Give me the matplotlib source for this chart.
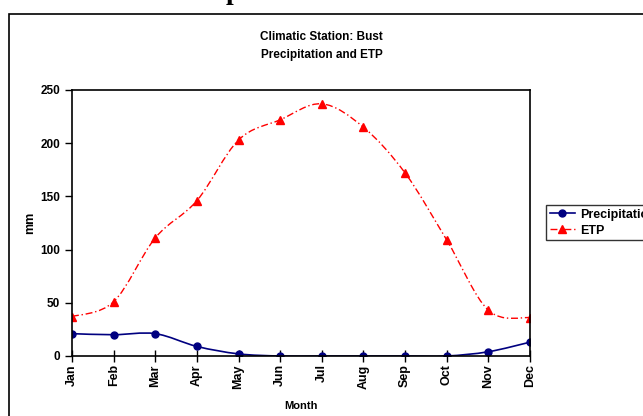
import matplotlib
matplotlib.use("Agg")
import matplotlib.pyplot as plt
from matplotlib.path import Path
from matplotlib.patches import PathPatch, Rectangle
from matplotlib.lines import Line2D

months = ['Jan', 'Feb', 'Mar', 'Apr', 'May', 'Jun',
          'Jul', 'Aug', 'Sep', 'Oct', 'Nov', 'Dec']
precipitation = [21, 20, 21, 9, 2, 0, 0, 0, 0, 0, 4, 13]
etp = [37, 51, 111, 146, 203, 222, 237, 215, 172, 109, 43, 36]

plt.rcParams['font.family'] = ['Liberation Sans', 'DejaVu Sans']
plt.rcParams['font.weight'] = 'bold'


def smooth_path(xs, ys):
    # excel-like smoothed line (catmull-rom as bezier segments)
    pts = list(zip(xs, ys))
    verts = [pts[0]]
    codes = [Path.MOVETO]
    n = len(pts)
    for i in range(n - 1):
        p0 = pts[i - 1] if i > 0 else pts[i]
        p1 = pts[i]
        p2 = pts[i + 1]
        p3 = pts[i + 2] if i + 2 < n else pts[i + 1]
        c1 = (p1[0] + (p2[0] - p0[0]) / 6, p1[1] + (p2[1] - p0[1]) / 6)
        c2 = (p2[0] - (p3[0] - p1[0]) / 6, p2[1] - (p3[1] - p1[1]) / 6)
        verts += [c1, c2, p2]
        codes += [Path.CURVE4] * 3
    return Path(verts, codes)


fig = plt.figure(figsize=(6.43, 4.16), dpi=100)

# document frame around the chart (cut off by the screenshot)
fig.patches.append(Rectangle((9 / 643, -0.1), 1.2, 1 - 14 / 416 + 0.1,
                             transform=fig.transFigure, fill=False,
                             edgecolor='black', linewidth=1.2))
fig.text(233 / 643, 1 + 1 / 416, 'p', family='Liberation Serif', fontsize=20,
         fontweight='bold', ha='center', va='baseline')

ax = fig.add_axes([72 / 643, 1 - 356 / 416, (530 - 72) / 643, (356 - 90) / 416])
x = list(range(len(months)))

ax.add_patch(PathPatch(smooth_path(x, etp), fill=False, edgecolor='#ff0000',
                       linewidth=1.0, linestyle=(0, (5, 2, 1, 2))))
ax.plot(x, etp, linestyle='none', marker='^', color='#ff0000', markersize=6)
ax.add_patch(PathPatch(smooth_path(x, precipitation), fill=False,
                       edgecolor='#000080', linewidth=1.2))
ax.plot(x, precipitation, linestyle='none', marker='o', color='#000080',
        markersize=5)

ax.set_xlim(0, 11)
ax.set_ylim(0, 250)
ax.set_yticks([0, 50, 100, 150, 200, 250])
ax.set_xticks(x)
ax.set_xticklabels(months, rotation=90, fontsize=9, fontweight='bold')
ax.tick_params(axis='y', labelsize=8.5, direction='out', length=5, width=1)
ax.tick_params(axis='x', direction='inout', length=8, width=1, pad=2)
for s in ax.spines.values():
    s.set_linewidth(1.2)

ax.set_xlabel('Month', fontsize=8, fontweight='bold', labelpad=9)
ax.set_ylabel('mm', fontsize=9, fontweight='bold', labelpad=3)
fig.text(0.5, 1 - 46 / 416, 'Climatic Station: Bust\nPrecipitation and ETP',
         ha='center', va='center', fontsize=8.5, fontweight='bold',
         linespacing=1.7)

handles = [
    Line2D([], [], color='#000080', marker='o', markersize=5, linewidth=1.2),
    Line2D([], [], color='#ff0000', marker='^', markersize=6, linewidth=1.0,
           linestyle=(0, (5, 2, 1, 2))),
]
leg = fig.legend(handles, ['Precipitation', 'ETP'], loc='upper left',
                 bbox_to_anchor=(546 / 643, 1 - 205 / 416), fontsize=9,
                 frameon=True, fancybox=False, handlelength=2.0,
                 borderpad=0.3, labelspacing=0.3, handletextpad=0.4,
                 borderaxespad=0)
leg.get_frame().set_edgecolor('black')
leg.get_frame().set_linewidth(1.0)
for t in leg.get_texts():
    t.set_fontweight('bold')

fig.savefig('out.png', dpi=100)
